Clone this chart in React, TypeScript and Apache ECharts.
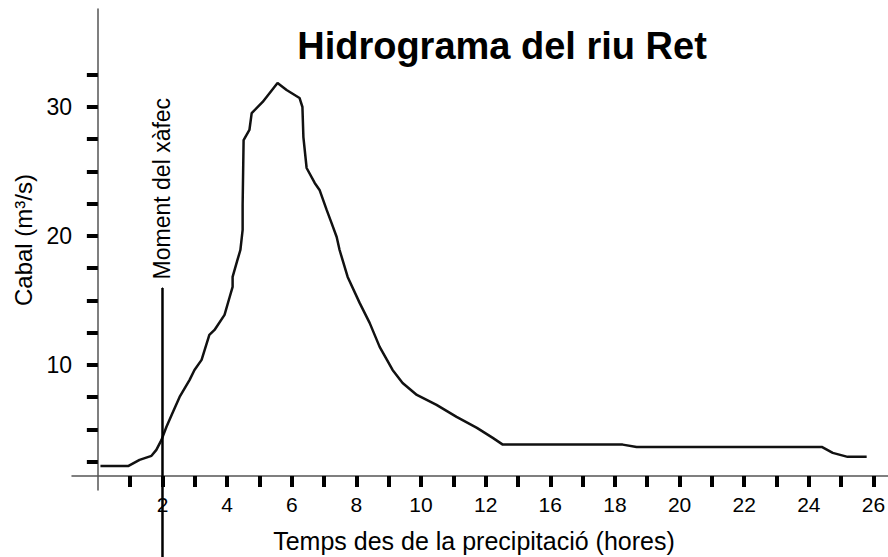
import React, { useEffect, useRef } from "react";
import * as echarts from "echarts";

// Time axis is drawn in evenly spaced "slots"; labels below show the hours printed on the original.
const timeSlot = [0.08, 0.95, 1.29, 1.66, 1.81, 1.97, 2.12, 2.31, 2.53, 2.84, 2.99, 3.21, 3.45, 3.61, 3.92, 4.07, 4.17, 4.17, 4.32, 4.41, 4.48, 4.48, 4.51, 4.69, 4.76, 5.10, 5.56, 5.84, 6.24, 6.33, 6.36, 6.46, 6.71, 6.86, 7.08, 7.23, 7.39, 7.48, 7.73, 8.10, 8.41, 8.72, 9.12, 9.43, 9.87, 10.48, 11.10, 11.73, 12.22, 12.53, 16.24, 16.67, 22.40, 22.74, 23.20, 23.79];
const flow = [2.17, 2.17, 2.64, 2.95, 3.41, 4.19, 5.19, 6.28, 7.52, 8.84, 9.61, 10.39, 12.33, 12.71, 13.88, 15.19, 16.05, 16.82, 18.14, 18.91, 20.47, 22.40, 27.44, 28.22, 29.53, 30.39, 31.86, 31.32, 30.70, 30.00, 27.67, 25.27, 24.11, 23.57, 22.02, 21.01, 19.92, 18.91, 16.82, 14.81, 13.26, 11.40, 9.61, 8.60, 7.67, 6.90, 5.97, 5.12, 4.34, 3.82, 3.82, 3.64, 3.64, 3.18, 2.87, 2.87];

const xTickSlots = [1, 2, 3, 4, 5, 6, 7, 8, 9, 10, 11, 12, 13, 14, 15, 16, 17, 18, 19, 20, 21, 22, 23, 24];
const xLabelSlots = [2, 4, 6, 8, 10, 12, 14, 16, 18, 20, 22, 24];
const xLabelTexts = ["2", "4", "6", "8", "10", "12", "16", "18", "20", "22", "24", "26"];

const yTickValues = [2.5, 5, 7.5, 10, 12.5, 15, 17.5, 20, 22.5, 25, 27.5, 30, 32.5];
const yLabelValues = [10, 20, 30];

const momentSlot = 2;
const momentTop = 15.97;
const momentBottom = -5;

const FONT = "'Liberation Sans', Arial, sans-serif";

export default function App() {
  const ref = useRef<HTMLDivElement>(null);
  useEffect(() => {
    if (!ref.current) return;
    const chart = echarts.init(ref.current, null, { renderer: "svg" });
    chart.setOption({
      animation: false,
      backgroundColor: "#ffffff",
      grid: { left: 72, right: 0, top: 9, bottom: 67, containLabel: false, outerBoundsMode: "none" },
      graphic: [
        {
          type: "text",
          x: 502,
          y: 46,
          style: {
            text: "Hidrograma del riu Ret",
            font: "bold 38px " + FONT,
            fill: "#000",
            textAlign: "center",
            textVerticalAlign: "middle",
          },
        },
      ],
      xAxis: {
        type: "value",
        min: -0.8,
        max: 24.45,
        offset: -14,
        splitLine: { show: false },
        axisLine: { onZero: false, lineStyle: { color: "#555", width: 1.5 } },
        axisTick: {
          show: true,
          customValues: xTickSlots,
          length: 11,
          lineStyle: { color: "#000", width: 4 },
        },
        axisLabel: {
          customValues: xLabelSlots,
          formatter: (v: number) => {
            const i = xLabelSlots.indexOf(Math.round(v));
            return i >= 0 ? xLabelTexts[i] : "";
          },
          margin: 18,
          fontSize: 21,
          fontFamily: FONT,
          color: "#000",
        },
        name: "Temps des de la precipitació (hores)",
        nameLocation: "middle",
        nameGap: 52,
        nameTextStyle: { fontSize: 25, fontFamily: FONT, color: "#000", padding: [0, 12, 0, 0] },
      },
      yAxis: {
        type: "value",
        min: 0.3,
        max: 37.6,
        splitLine: { show: false },
        axisLine: { onZero: true, lineStyle: { color: "#555", width: 1.5 } },
        axisTick: {
          show: true,
          customValues: yTickValues,
          length: 11,
          lineStyle: { color: "#000", width: 4 },
        },
        axisLabel: {
          customValues: yLabelValues,
          margin: 0,
          fontSize: 23,
          fontFamily: FONT,
          color: "#000",
        },
        name: "Cabal (m³/s)",
        nameLocation: "middle",
        nameGap: 32,
        nameTextStyle: { fontSize: 24, fontFamily: FONT, color: "#000", padding: [0, 0, 0, 19] },
      },
      series: [
        {
          type: "line",
          name: "Cabal",
          data: timeSlot.map((t, i) => [t, flow[i]]),
          showSymbol: false,
          symbol: "none",
          lineStyle: { color: "#111", width: 2.5 },
          silent: true,
        },
        {
          type: "line",
          name: "Moment del xàfec",
          clip: false,
          data: [
            {
              value: [momentSlot, momentTop],
              label: {
                show: true,
                formatter: "Moment del xàfec",
                position: "top",
                rotate: 90,
                align: "left",
                verticalAlign: "middle",
                distance: 8,
                fontSize: 23,
                fontFamily: FONT,
                color: "#000",
              },
            },
            [momentSlot, momentBottom],
          ],
          symbol: "circle",
          symbolSize: 1,
          showSymbol: true,
          itemStyle: { color: "#000" },
          lineStyle: { color: "#000", width: 2.5 },
          silent: true,
        },
      ],
    });
    return () => chart.dispose();
  }, []);
  return <div ref={ref} style={{ position: "absolute", left: 0, top: 0, width: 888, height: 557 }} />;
}
